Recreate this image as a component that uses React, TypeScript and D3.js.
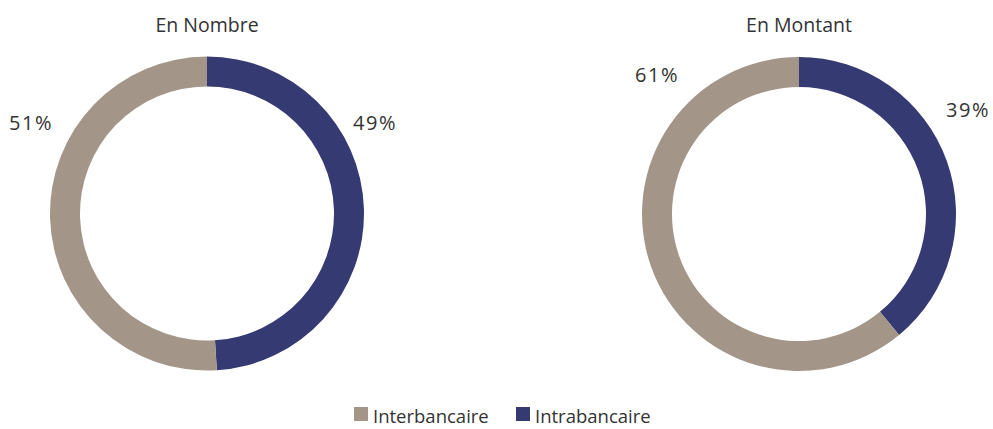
import React from "react";
import * as d3 from "d3";

const categories = ["Intrabancaire", "Interbancaire"];
const charts = ["En Nombre", "En Montant"];
const nombreValues = [49, 51];
const montantValues = [39, 61];
const colors = ["#363a72", "#a39688"];
const legendOrder = ["Interbancaire", "Intrabancaire"];

// label offsets (relative to donut center) for the percentage labels
const labelOffsets = [
  [[168, -89], [-176, -89]],
  [[169, -102], [-142, -137]],
];

const W = 993;
const H = 429;
const outerR = 157;
const innerR = 127;
const centers = [
  [207, 213.5],
  [799, 214],
];

export default function App() {
  const pie = d3.pie<number>().sort(null).value((d) => d);
  const arc = d3.arc<d3.PieArcDatum<number>>().innerRadius(innerR).outerRadius(outerR);
  const color = d3.scaleOrdinal<string, string>().domain(categories).range(colors);
  const series = [nombreValues, montantValues];
  const font = "'Open Sans', sans-serif";
  const textColor = "#333333";

  return (
    <svg width={W} height={H} style={{ position: "absolute", left: 0, top: 0 }}>
      <rect width={W} height={H} fill="#ffffff" />
      {series.map((vals, ci) => {
        const [cx, cy] = centers[ci];
        const arcs = pie(vals);
        return (
          <g key={ci} transform={`translate(${cx},${cy})`}>
            <text
              x={0}
              y={-cy + 32}
              textAnchor="middle"
              fontFamily={font}
              fontSize={19.5}
              fill={textColor}
            >
              {charts[ci]}
            </text>
            {arcs.map((a, i) => (
              <path key={i} d={arc(a) || ""} fill={color(categories[i])} />
            ))}
            {arcs.map((a, i) => (
              <text
                key={"l" + i}
                x={labelOffsets[ci][i][0]}
                y={labelOffsets[ci][i][1]}
                textAnchor="middle"
                dominantBaseline="middle"
                fontFamily={font}
                fontSize={20}
                letterSpacing={1.5}
                fill={textColor}
              >
                {`${vals[i]}%`}
              </text>
            ))}
          </g>
        );
      })}
      {legendOrder.map((name, i) => {
        const x0 = i === 0 ? 354 : 516;
        return (
          <g key={name} transform={`translate(${x0},407)`}>
            <rect width={14} height={14} fill={color(name)} />
            <text
              x={19}
              y={16}
              fontFamily={font}
              fontSize={18.5}
              fill={textColor}
            >
              {name}
            </text>
          </g>
        );
      })}
    </svg>
  );
}
